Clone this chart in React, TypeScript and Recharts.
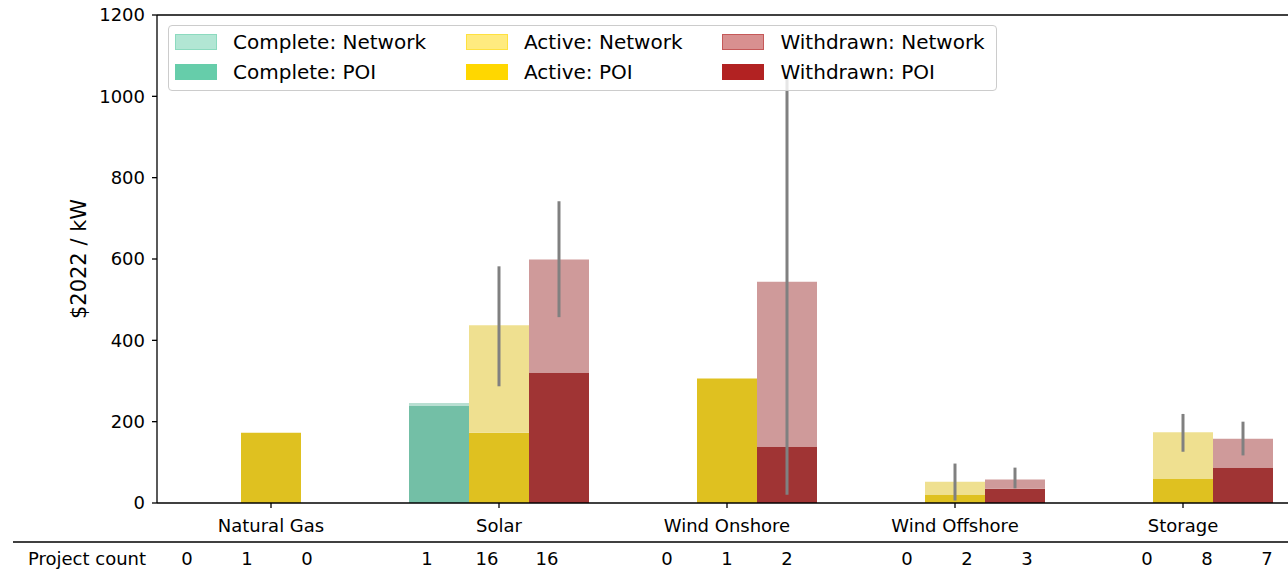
import React from 'react'
import {
  ComposedChart,
  Bar,
  Scatter,
  XAxis,
  YAxis,
  ErrorBar,
  ReferenceLine
} from 'recharts'

const FONT = '"DejaVu Sans", sans-serif'

// Interconnection cost per technology, split into point-of-interconnection
// and network upgrade costs ($2022 / kW)
const categories = ['Natural Gas', 'Solar', 'Wind Onshore', 'Wind Offshore', 'Storage']

const completePoi = [null, 240, null, null, null]
const completeNetwork = [null, 6, null, null, null]

const activePoi = [173, 173, 306, 21, 60]
const activeNetwork = [0, 264, 0, 31, 114]
const activeErr = [null, [150, 145], null, [46, 45], [48, 45]]

const withdrawnPoi = [null, 321, 139, 35, 87]
const withdrawnNetwork = [null, 278, 405, 23, 71]
const withdrawnErr = [null, [142, 143], [524, 502], [22, 29], [41, 42]]

// Project count table
const completeCount = [0, 1, 0, 0, 0]
const activeCount = [1, 16, 1, 2, 8]
const withdrawnCount = [0, 16, 2, 3, 7]

const yTicks = [0, 200, 400, 600, 800, 1000, 1200]

const colors = {
  complete: {base: '#66cdaa', poi: '#73bfa6', network: '#b9dfd2'},
  active: {base: '#ffd700', poi: '#dfc120', network: '#efe090'},
  withdrawn: {base: '#b22222', poi: '#a03434', network: '#cf9a9a'}
}

const chartData = categories.map((category, i) => ({
  category,
  completePoi: completePoi[i],
  completeNetwork: completeNetwork[i],
  activePoi: activePoi[i],
  activeNetwork: activeNetwork[i],
  activeErr: activeErr[i],
  withdrawnPoi: withdrawnPoi[i],
  withdrawnNetwork: withdrawnNetwork[i],
  withdrawnErr: withdrawnErr[i]
}))

// table has three status columns per technology plus a blank spacer column
const countRows: {pos: number; count: string; zero: number}[] = []
categories.forEach((_, i) => {
  ;[completeCount, activeCount, withdrawnCount].forEach((counts, j) => {
    countRows.push({pos: i * 4 + j + 0.5, count: String(counts[i]), zero: 0})
  })
})
const countTicks = countRows.map((r) => r.pos)
const countLabel = (v: number) => countRows.find((r) => r.pos === v)?.count ?? ''

const legendItems = [
  {label: 'Complete: Network', color: colors.complete.base, light: true},
  {label: 'Complete: POI', color: colors.complete.base, light: false},
  {label: 'Active: Network', color: colors.active.base, light: true},
  {label: 'Active: POI', color: colors.active.base, light: false},
  {label: 'Withdrawn: Network', color: colors.withdrawn.base, light: true},
  {label: 'Withdrawn: POI', color: colors.withdrawn.base, light: false}
]

const hexToRgba = (hex: string, a: number) => {
  const n = parseInt(hex.slice(1), 16)
  return `rgba(${(n >> 16) & 255}, ${(n >> 8) & 255}, ${n & 255}, ${a})`
}

const YLabel = (props: any) => {
  const {x, y, width, height} = props.viewBox
  const cx = x + width - 78
  const cy = y + height / 2
  return (
    <text
      x={cx}
      y={cy}
      transform={`rotate(-90, ${cx}, ${cy})`}
      textAnchor="middle"
      dominantBaseline="central"
      fontSize={21}
      fontFamily={FONT}
      fill="#000"
    >
      $2022 / kW
    </text>
  )
}

const TableHeader = (props: any) => {
  const {x, y, width} = props.viewBox
  return (
    <g>
      <line x1={x - 144} x2={x + width} y1={y} y2={y} stroke="#000" strokeWidth={1.5} />
      <text x={x - 70} y={y + 23} textAnchor="middle" fontSize={18} fontFamily={FONT} fill="#000">
        Project count
      </text>
    </g>
  )
}

const LegendBox = () => (
  <div
    style={{
      position: 'absolute',
      left: 168,
      top: 25,
      boxSizing: 'border-box',
      width: 829,
      padding: '1px 6px 3px 6px',
      border: '1px solid #cccccc',
      borderRadius: 4,
      background: 'rgba(255, 255, 255, 0.8)',
      display: 'grid',
      gridTemplateRows: 'repeat(2, 30px)',
      gridAutoFlow: 'column',
      columnGap: 40,
      justifyContent: 'start',
      fontFamily: FONT,
      fontSize: 20,
      color: '#000'
    }}
  >
    {legendItems.map((item) => (
      <div key={item.label} style={{display: 'flex', alignItems: 'center', lineHeight: 1}}>
        <span
          style={{
            display: 'inline-block',
            boxSizing: 'border-box',
            width: 42,
            height: 16,
            marginRight: 16,
            background: item.light ? hexToRgba(item.color, 0.5) : item.color,
            border: `1px solid ${hexToRgba(item.color, 0.5)}`
          }}
        />
        <span>{item.label}</span>
      </div>
    ))}
  </div>
)

const App: React.FC = () => {
  return (
    <div
      style={{
        position: 'absolute',
        left: 0,
        top: 0,
        width: 1288,
        height: 573,
        overflow: 'hidden',
        background: '#fff'
      }}
    >
      <ComposedChart
        width={1300}
        height={573}
        data={chartData}
        margin={{top: 15, right: 3, bottom: 0, left: 97}}
        barCategoryGap={24}
        barGap={0}
      >
        <XAxis
          xAxisId={0}
          dataKey="category"
          height={39}
          interval={0}
          tickSize={5}
          tickMargin={11}
          tick={{fontSize: 18, fill: '#000', fontFamily: FONT}}
          axisLine={{stroke: '#000', strokeWidth: 1.3}}
          tickLine={{stroke: '#000', strokeWidth: 1.3}}
        />
        <XAxis
          xAxisId={1}
          dataKey="pos"
          type="number"
          domain={[0, 19]}
          allowDataOverflow
          ticks={countTicks}
          interval={0}
          height={31}
          tickSize={0}
          tickMargin={10}
          axisLine={false}
          tickLine={false}
          tickFormatter={countLabel}
          tick={{fontSize: 18, fill: '#000', fontFamily: FONT}}
          label={TableHeader}
        />
        <YAxis
          domain={[0, 1200]}
          ticks={yTicks}
          allowDataOverflow
          width={60}
          tickSize={5}
          tickMargin={7}
          interval={0}
          tick={{fontSize: 18, fill: '#000', fontFamily: FONT}}
          axisLine={{stroke: '#000', strokeWidth: 1.3}}
          tickLine={{stroke: '#000', strokeWidth: 1.3}}
          label={YLabel}
        />
        <ReferenceLine xAxisId={0} y={1200} stroke="#000" strokeWidth={1.3} />

        <Bar dataKey="completePoi" stackId="complete" fill={colors.complete.poi} isAnimationActive={false} />
        <Bar dataKey="completeNetwork" stackId="complete" fill={colors.complete.network} isAnimationActive={false} />

        <Bar dataKey="activePoi" stackId="active" fill={colors.active.poi} isAnimationActive={false} />
        <Bar dataKey="activeNetwork" stackId="active" fill={colors.active.network} isAnimationActive={false}>
          <ErrorBar dataKey="activeErr" width={0} stroke="#808080" strokeWidth={3} direction="y" />
        </Bar>

        <Bar dataKey="withdrawnPoi" stackId="withdrawn" fill={colors.withdrawn.poi} isAnimationActive={false} />
        <Bar dataKey="withdrawnNetwork" stackId="withdrawn" fill={colors.withdrawn.network} isAnimationActive={false}>
          <ErrorBar dataKey="withdrawnErr" width={0} stroke="#808080" strokeWidth={3} direction="y" />
        </Bar>

        {/* table columns: carries the count axis, draws no marks */}
        <Scatter
          xAxisId={1}
          data={countRows}
          dataKey="zero"
          shape={() => <g />}
          isAnimationActive={false}
        />
      </ComposedChart>
      <LegendBox />
    </div>
  )
}

export default App
